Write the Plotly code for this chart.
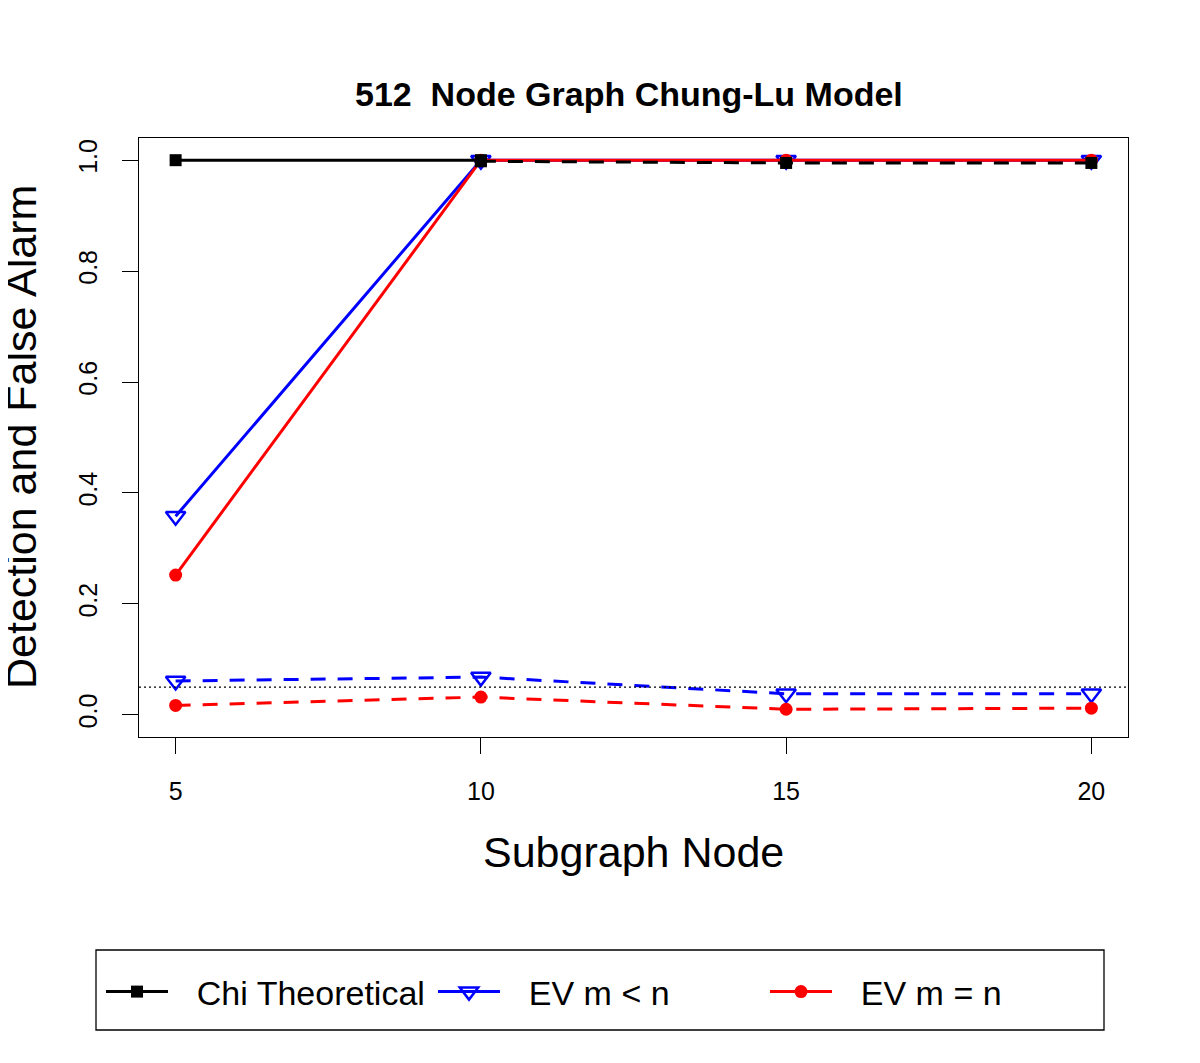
import plotly.graph_objects as go

# ---- data ----
subgraph_nodes = [5, 10, 15, 20]
chi_detection = [1.0, 1.0, 1.0, 1.0]
chi_false_alarm = [1.0, 0.998, 0.995, 0.995]
ev_lt_detection = [0.358, 1.0, 1.0, 1.0]
ev_lt_false_alarm = [0.061, 0.068, 0.038, 0.038]
ev_eq_detection = [0.252, 1.0, 1.0, 1.0]
ev_eq_false_alarm = [0.017, 0.032, 0.010, 0.012]
alpha_level = 0.05
x_ticks = [5, 10, 15, 20]
y_ticks = [0.0, 0.2, 0.4, 0.6, 0.8, 1.0]
legend_names = ["Chi Theoretical", "EV m < n", "EV m = n"]

FONT = "Liberation Sans, Arial, sans-serif"
BLUE = "#0000FF"
RED = "#FF0000"
BLACK = "#000000"

# page offset (body margin) compensation
OFF = 8
# target plot area in screenshot pixels: x 139..1128, y 138..737
L, R, T, B = 139 - OFF, 1128 - OFF, 138 - OFF, 737 - OFF
W, H = R - L, B - T
def px(x):
    return (x - OFF - L) / W
def py(y):
    return (B - (y - OFF)) / H

fig = go.Figure()

tri = dict(symbol="triangle-down-open", size=17, color=BLUE, line=dict(color=BLUE, width=2.5))
sq = dict(symbol="square", size=12, color=BLACK)
circ = dict(symbol="circle", size=13, color=RED)
dash = "15px,12px"
pad = "\u2002\u2009"

fig.add_trace(go.Scatter(x=subgraph_nodes, y=ev_lt_detection, mode="lines+markers",
                         line=dict(color=BLUE, width=3), marker=tri,
                         name=pad + legend_names[1], legendrank=2))
fig.add_trace(go.Scatter(x=subgraph_nodes, y=ev_lt_false_alarm, mode="lines+markers",
                         line=dict(color=BLUE, width=3, dash=dash), marker=tri,
                         showlegend=False))
fig.add_trace(go.Scatter(x=subgraph_nodes, y=ev_eq_detection, mode="lines+markers",
                         line=dict(color=RED, width=3), marker=circ,
                         name=pad + legend_names[2], legendrank=3))
fig.add_trace(go.Scatter(x=subgraph_nodes, y=ev_eq_false_alarm, mode="lines+markers",
                         line=dict(color=RED, width=3, dash=dash), marker=circ,
                         showlegend=False))
fig.add_trace(go.Scatter(x=subgraph_nodes[:2], y=chi_detection[:2], mode="lines+markers",
                         line=dict(color=BLACK, width=3), marker=sq,
                         name=pad + legend_names[0], legendrank=1))
fig.add_trace(go.Scatter(x=subgraph_nodes[1:], y=chi_false_alarm[1:], mode="lines+markers",
                         line=dict(color=BLACK, width=3, dash=dash), marker=sq,
                         showlegend=False))

# alpha reference line
fig.add_shape(type="line", xref="paper", yref="y", x0=0, x1=1, y0=alpha_level, y1=alpha_level,
              line=dict(color=BLACK, width=1.3, dash="2px,3px"))

# legend box
fig.add_shape(type="rect", xref="paper", yref="paper",
              x0=px(96), x1=px(1104), y0=py(1030), y1=py(950),
              line=dict(color=BLACK, width=1.3), fillcolor="rgba(0,0,0,0)")

axis_common = dict(showline=True, linecolor=BLACK, linewidth=1.3, mirror=True,
                   ticks="outside", ticklen=16, tickwidth=1.3, tickcolor=BLACK,
                   showgrid=False, zeroline=False,
                   tickfont=dict(family=FONT, size=25, color=BLACK))

fig.update_xaxes(range=[4.4, 20.6], tickvals=x_ticks, ticklabelstandoff=16, **axis_common)
fig.update_yaxes(range=[-0.04, 1.04], tickvals=y_ticks, tickformat=".1f", tickangle=-90,
                 ticklabelstandoff=15, **axis_common)

fig.add_annotation(text="<b>512\u00a0\u00a0Node Graph Chung-Lu Model</b>", xref="paper", yref="paper",
                   x=px(629), y=py(94), showarrow=False, xanchor="center", yanchor="middle",
                   font=dict(family=FONT, size=34, color=BLACK))
fig.add_annotation(text="Subgraph Node", xref="paper", yref="paper",
                   x=px(633), y=py(852), showarrow=False, xanchor="center", yanchor="middle",
                   font=dict(family=FONT, size=43, color=BLACK))
fig.add_annotation(text="Detection and False Alarm", xref="paper", yref="paper",
                   x=px(21), y=py(437), showarrow=False, textangle=-90,
                   xanchor="center", yanchor="middle",
                   font=dict(family=FONT, size=43, color=BLACK))

fig.update_layout(
    width=1200, height=1063,
    margin=dict(l=L, r=1200 - R, t=T, b=1063 - B, autoexpand=False),
    plot_bgcolor="white", paper_bgcolor="white",
    showlegend=True,
    legend=dict(orientation="h", x=px(101), y=py(992), xanchor="left", yanchor="middle",
                entrywidth=255, entrywidthmode="pixels", itemwidth=62,
                font=dict(family=FONT, size=34, color=BLACK),
                bgcolor="rgba(0,0,0,0)", borderwidth=0, traceorder="normal"),
)

fig.write_html("out.html")
